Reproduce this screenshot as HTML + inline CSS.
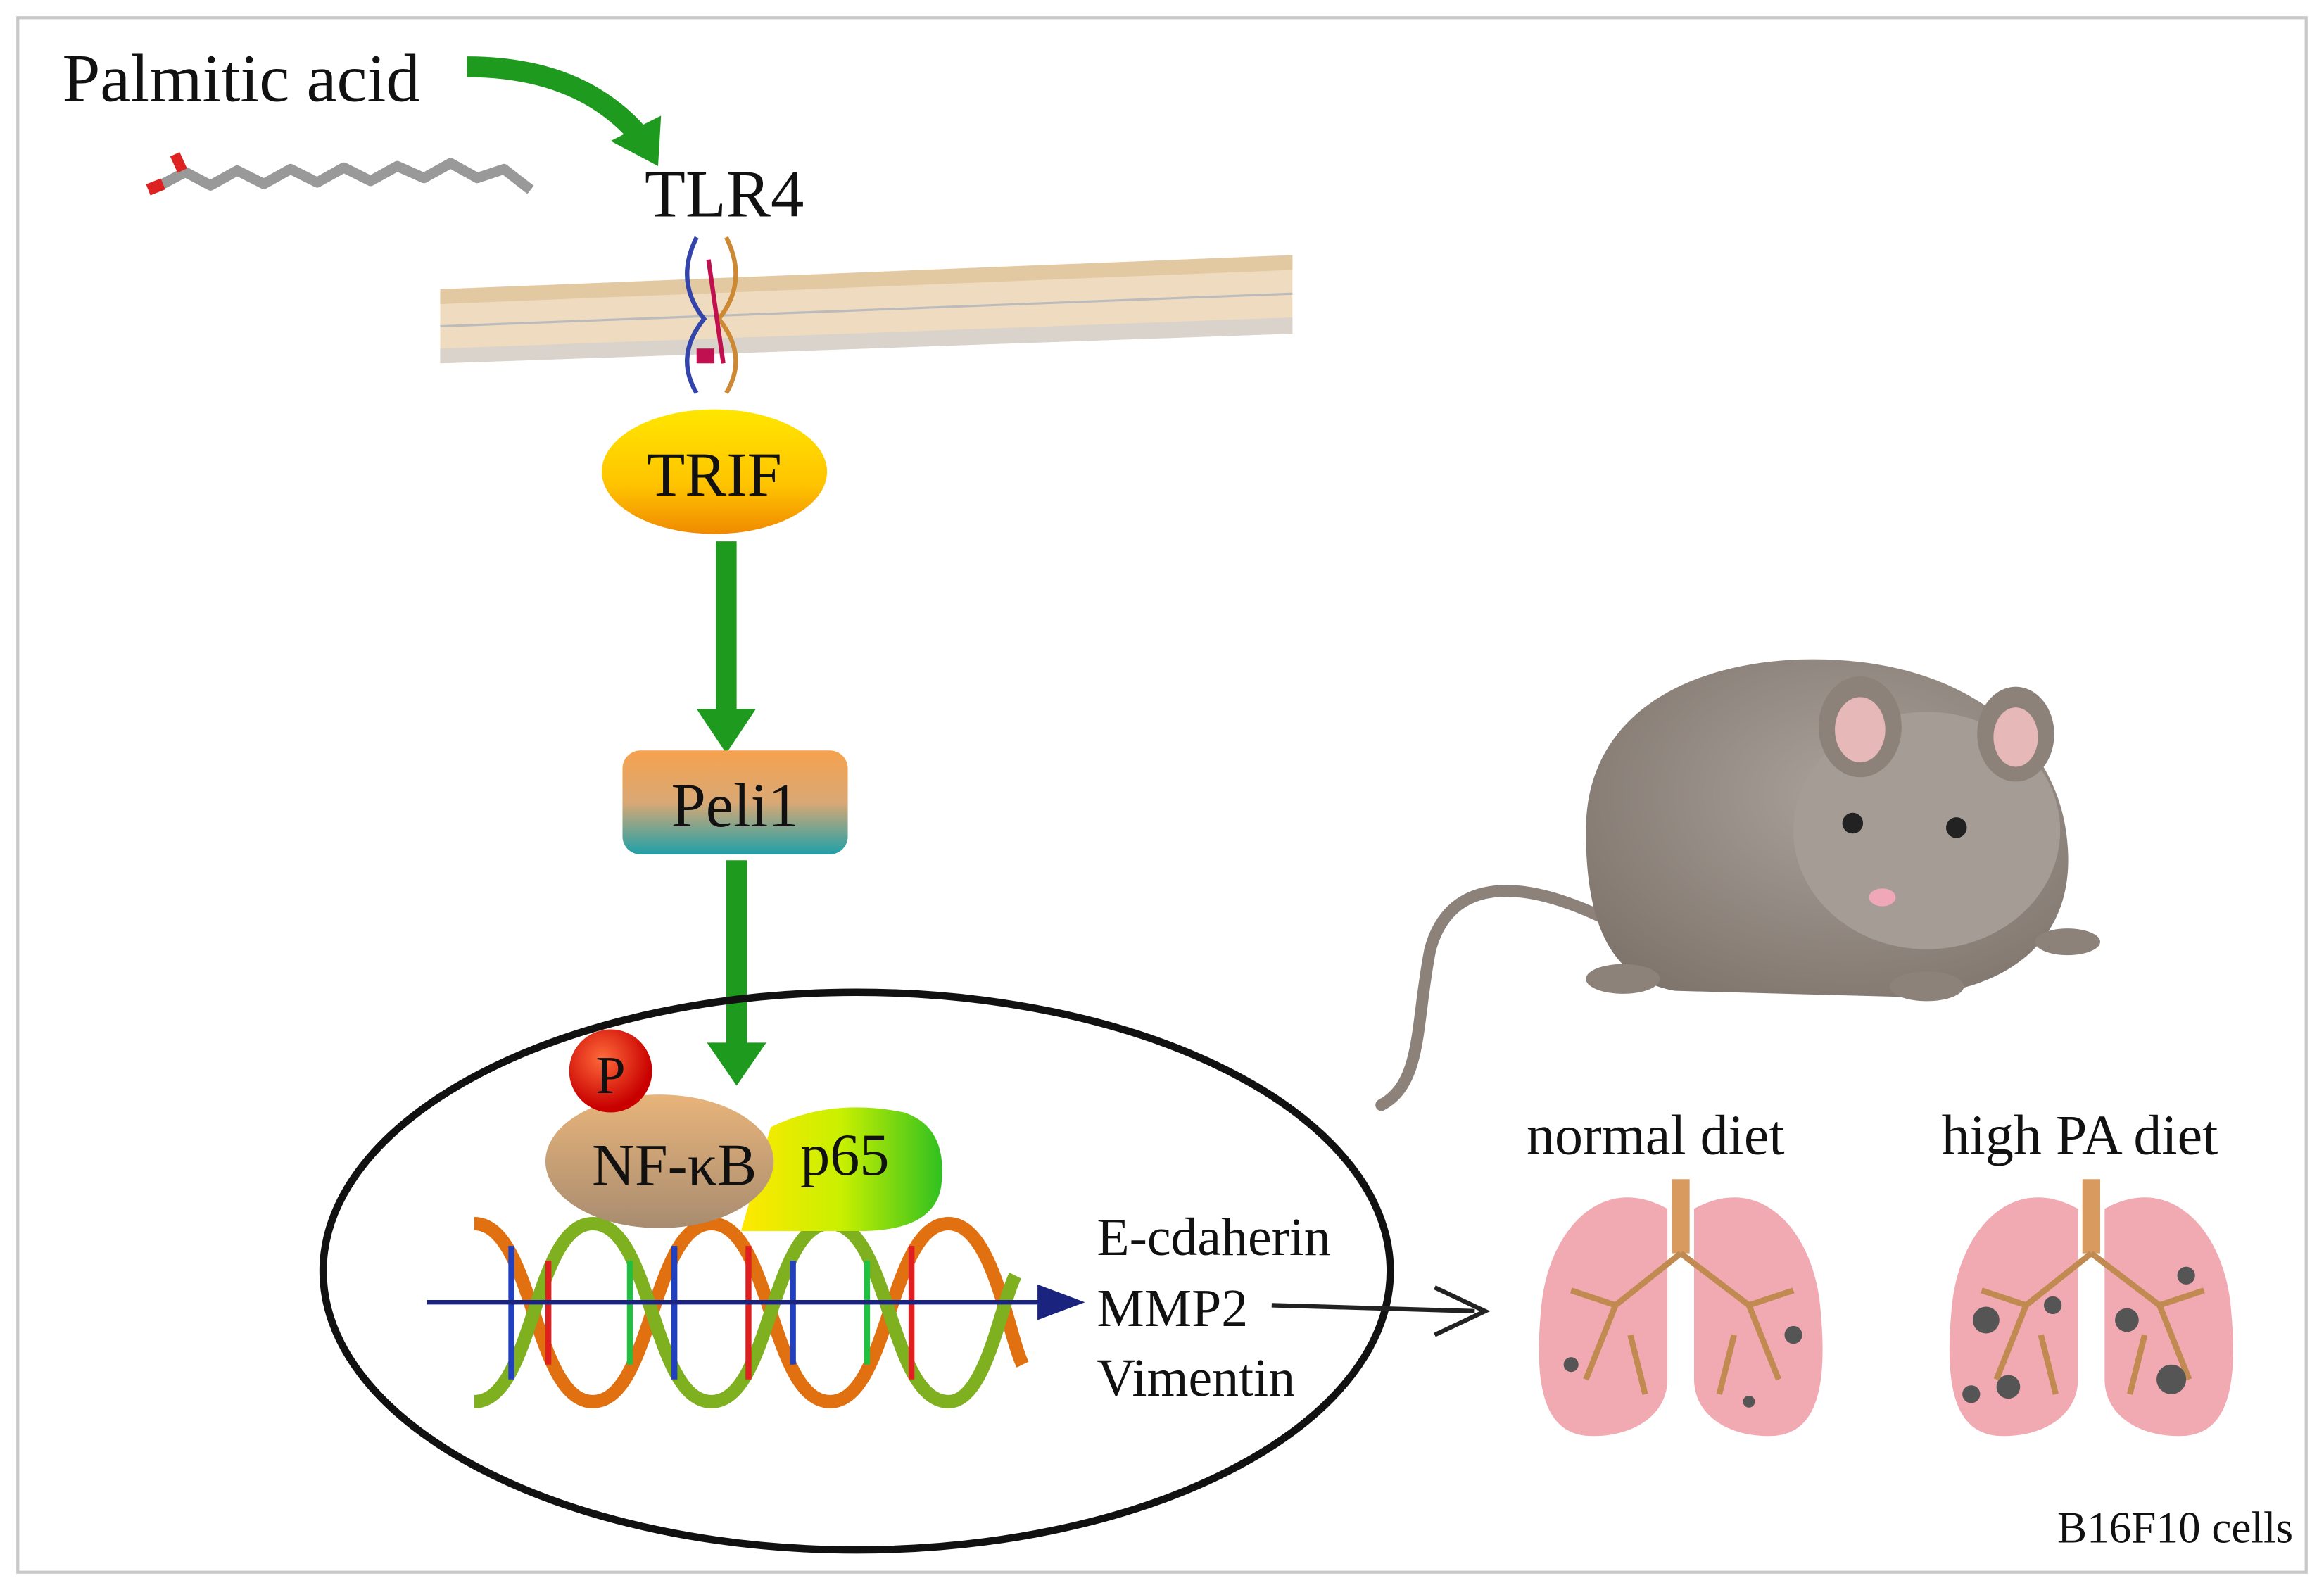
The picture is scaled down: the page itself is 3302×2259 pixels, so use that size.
<!DOCTYPE html>
<html><head><meta charset="utf-8">
<style>
html,body{margin:0;padding:0;background:#fff;}
svg{display:block}
text{font-family:"Liberation Serif",serif;fill:#111}
</style></head>
<body>
<svg width="3302" height="2259" viewBox="0 0 1568 1072" preserveAspectRatio="none" xmlns="http://www.w3.org/2000/svg">
<defs>
<linearGradient id="trif" x1="0" y1="0" x2="0" y2="1"><stop offset="0" stop-color="#ffe600"/><stop offset="0.6" stop-color="#ffc400"/><stop offset="1" stop-color="#f08a00"/></linearGradient>
<linearGradient id="peli" x1="0" y1="0" x2="0" y2="1"><stop offset="0" stop-color="#f6a24f"/><stop offset="0.5" stop-color="#d9a874"/><stop offset="1" stop-color="#1fa0a8"/></linearGradient>
<linearGradient id="nfkb" x1="0" y1="0" x2="0" y2="1"><stop offset="0" stop-color="#e8b47a"/><stop offset="1" stop-color="#a88c70"/></linearGradient>
<linearGradient id="p65" x1="0" y1="0" x2="1" y2="0"><stop offset="0" stop-color="#ffe800"/><stop offset="0.5" stop-color="#c8f000"/><stop offset="1" stop-color="#30c020"/></linearGradient>
<radialGradient id="pball" cx="0.4" cy="0.35" r="0.6"><stop offset="0" stop-color="#ff6a3a"/><stop offset="1" stop-color="#c80000"/></radialGradient>
<radialGradient id="mouse" cx="0.55" cy="0.4" r="0.7"><stop offset="0" stop-color="#aaa19a"/><stop offset="1" stop-color="#7e746c"/></radialGradient>
</defs>
<rect x="12" y="12" width="1544" height="1048" fill="none" stroke="#c8c8c8" stroke-width="2"/>

<text x="42" y="68" font-size="46">Palmitic acid</text>
<path d="M315,45 Q390,45 430,90" fill="none" stroke="#1e9a1e" stroke-width="14"/>
<polygon points="412,95 446,78 444,112" fill="#1e9a1e"/>
<polyline points="108,125 125,116 142,125 160,115 178,124 196,114 214,123 232,113 250,122 268,112 286,120 304,110 322,120 340,114 358,128" fill="none" stroke="#999" stroke-width="7" stroke-linejoin="round"/>
<line x1="100" y1="128" x2="110" y2="124" stroke="#d22" stroke-width="8"/>
<line x1="118" y1="104" x2="123" y2="115" stroke="#d22" stroke-width="7"/>

<text x="435" y="146" font-size="45">TLR4</text>
<polygon points="297,195 872,172 872,225 297,245" fill="#efdcc0"/>
<line x1="297" y1="220" x2="872" y2="198" stroke="#bbb" stroke-width="1.5"/>
<polygon points="297,195 872,172 872,182 297,205" fill="#e3c9a2"/>
<polygon points="297,235 872,214 872,225 297,245" fill="#d9d3cc"/>
<g fill="none" stroke-width="3">
<path d="M470,160 q-15,30 5,55 q-20,25 -5,50" stroke="#3344aa"/>
<path d="M490,160 q15,30 -5,55 q20,25 5,50" stroke="#cc8833"/>
<path d="M478,175 l10,70" stroke="#c01050"/>
</g>
<rect x="470" y="235" width="12" height="10" fill="#c01050"/>

<ellipse cx="482" cy="318" rx="76" ry="42" fill="url(#trif)"/>
<text x="482" y="334" font-size="42" text-anchor="middle">TRIF</text>
<line x1="490" y1="365" x2="490" y2="480" stroke="#1e9a1e" stroke-width="14"/>
<polygon points="470,478 510,478 490,508" fill="#1e9a1e"/>
<rect x="420" y="506" width="152" height="70" rx="12" fill="url(#peli)"/>
<text x="496" y="557" font-size="42" text-anchor="middle">Peli1</text>
<line x1="497" y1="580" x2="497" y2="705" stroke="#1e9a1e" stroke-width="14"/>
<polygon points="477,703 517,703 497,732" fill="#1e9a1e"/>

<ellipse cx="578" cy="857" rx="360" ry="188" fill="none" stroke="#111" stroke-width="5"/>

<g fill="none" stroke-width="9">
<path d="M320,825 C360,825 360,945 400,945 C440,945 440,825 480,825 C520,825 520,945 560,945 C600,945 600,825 640,825 C670,825 680,900 690,920" stroke="#e07010"/>
<path d="M320,945 C360,945 360,825 400,825 C440,825 440,945 480,945 C520,945 520,825 560,825 C600,825 600,945 640,945 C665,945 675,880 685,860" stroke="#7fb020"/>
</g>
<g stroke-width="4">
<line x1="345" y1="840" x2="345" y2="930" stroke="#2040c0"/><line x1="370" y1="850" x2="370" y2="920" stroke="#e02020"/>
<line x1="425" y1="850" x2="425" y2="920" stroke="#20c040"/><line x1="455" y1="840" x2="455" y2="930" stroke="#2040c0"/>
<line x1="505" y1="840" x2="505" y2="930" stroke="#e02020"/><line x1="535" y1="850" x2="535" y2="920" stroke="#2040c0"/>
<line x1="585" y1="850" x2="585" y2="920" stroke="#20c040"/><line x1="615" y1="840" x2="615" y2="930" stroke="#e02020"/>
</g>
<line x1="288" y1="878" x2="705" y2="878" stroke="#1a237e" stroke-width="3"/>
<polygon points="700,866 732,878 700,890" fill="#1a237e"/>

<path d="M520,760 Q560,740 610,750 Q640,760 635,800 Q630,830 580,830 L500,830 Z" fill="url(#p65)"/>
<text x="540" y="792" font-size="40">p65</text>
<ellipse cx="445" cy="783" rx="77" ry="45" fill="url(#nfkb)"/>
<text x="455" y="799" font-size="40" text-anchor="middle">NF-κB</text>
<circle cx="412" cy="722" r="28" fill="url(#pball)"/>
<text x="412" y="737" font-size="36" text-anchor="middle">P</text>

<text x="740" y="846" font-size="36">E-cdaherin</text>
<text x="740" y="894" font-size="36">MMP2</text>
<text x="740" y="941" font-size="36">Vimentin</text>
<line x1="858" y1="880" x2="995" y2="884" stroke="#222" stroke-width="3"/>
<path d="M968,868 L1002,884 L968,900" fill="none" stroke="#222" stroke-width="3"/>

<path d="M1120,640 C1040,590 980,585 965,640 C955,690 960,730 932,745" fill="none" stroke="#8d827a" stroke-width="8" stroke-linecap="round"/>
<path d="M1070,560 C1070,470 1160,440 1240,445 C1330,450 1390,500 1395,570 C1400,630 1360,670 1280,672 L1130,668 C1085,660 1070,620 1070,560 Z" fill="url(#mouse)"/>
<ellipse cx="1300" cy="560" rx="90" ry="80" fill="#a59c95"/>
<ellipse cx="1255" cy="490" rx="28" ry="34" fill="#8d827a"/><ellipse cx="1255" cy="492" rx="17" ry="22" fill="#e7b8b8"/>
<ellipse cx="1360" cy="495" rx="26" ry="32" fill="#8d827a"/><ellipse cx="1360" cy="497" rx="15" ry="20" fill="#e7b8b8"/>
<circle cx="1250" cy="555" r="7" fill="#222"/><circle cx="1320" cy="558" r="7" fill="#222"/>
<ellipse cx="1270" cy="605" rx="9" ry="6" fill="#f0a8b8"/>
<ellipse cx="1095" cy="660" rx="25" ry="10" fill="#8d827a"/>
<ellipse cx="1300" cy="665" rx="25" ry="10" fill="#8d827a"/>
<ellipse cx="1395" cy="635" rx="22" ry="9" fill="#8d827a"/>

<text x="1030" y="778" font-size="38">normal diet</text>
<text x="1310" y="778" font-size="38">high PA diet</text>

<g id="lung">
<path d="M1125,815 C1080,790 1045,830 1040,880 C1035,930 1040,965 1070,968 C1100,970 1125,955 1125,930 Z" fill="#f2aab2"/>
<path d="M1143,815 C1188,790 1223,830 1228,880 C1233,930 1228,965 1198,968 C1168,970 1143,955 1143,930 Z" fill="#f2aab2"/>
<rect x="1128" y="795" width="12" height="50" fill="#d99a60"/>
<path d="M1134,845 L1090,880 L1070,930 M1134,845 L1180,880 L1200,930 M1090,880 L1060,870 M1180,880 L1210,870 M1100,900 L1110,940 M1170,900 L1160,940" fill="none" stroke="#c08a50" stroke-width="4"/>
</g>
<use href="#lung" transform="translate(277,0)"/>
<g fill="#555">
<circle cx="1060" cy="920" r="5"/><circle cx="1210" cy="900" r="6"/><circle cx="1180" cy="945" r="4"/>
<circle cx="1340" cy="890" r="9"/><circle cx="1355" cy="935" r="8"/><circle cx="1385" cy="880" r="6"/><circle cx="1435" cy="890" r="8"/><circle cx="1465" cy="930" r="10"/><circle cx="1475" cy="860" r="6"/><circle cx="1330" cy="940" r="6"/>
</g>

<text x="1388" y="1040" font-size="30">B16F10 cells</text>
</svg>
</body></html>
